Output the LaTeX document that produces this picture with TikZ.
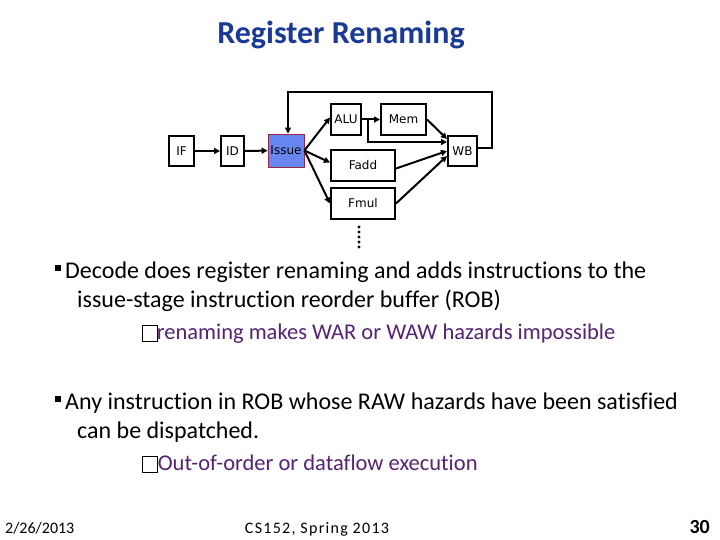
\documentclass[tikz,border=0pt]{standalone}
\usepackage{fontspec}
\setmainfont{Carlito}[Ligatures=NoCommon]
\newfontfamily\diagfont{DejaVu Sans}
\usepackage{xcolor}
\usetikzlibrary{arrows.meta,positioning}
\definecolor{titleblue}{RGB}{26,58,150}
\definecolor{subpurple}{RGB}{85,35,115}
\definecolor{issueblue}{RGB}{104,134,240}
\definecolor{issueedge}{RGB}{150,40,70}
% box standing in for the glyph the slide font lacks
\newcommand{\nosign}{{\color{black}\setlength{\fboxsep}{0pt}\setlength{\fboxrule}{0.8pt}%
  \raisebox{-2pt}{\fbox{\rule{0pt}{15pt}\hspace{14pt}}}}}

\begin{document}
\begin{tikzpicture}[
  x=1pt,y=-1pt,
  stage/.style={draw,line width=2pt,inner sep=0pt,
                font=\diagfont\fontsize{12}{14}\selectfont},
  arr/.style={-{Triangle[length=6pt,width=6pt]},line width=2pt},
  txt/.style={anchor=base west,inner sep=0pt,font=\fontsize{24}{28}\selectfont},
  sub/.style={txt,text=subpurple,font=\fontsize{22.5}{26}\selectfont},
  bullet/.style={fill=black,minimum size=6pt,inner sep=0pt},
  foot/.style={inner sep=0pt,font=\fontsize{16}{18}\selectfont}
]
\useasboundingbox (0,0) rectangle (720,540);

\node[font=\bfseries\fontsize{32}{36}\selectfont,text=titleblue,anchor=base]
  (title) at (341,44) {Register Renaming};

% pipeline
\node[stage,minimum width=25pt,minimum height=30pt] (if) at (181.5,151) {IF};
\node[stage,minimum width=23pt,minimum height=30pt] (id) at (232.5,151) {ID};
\node[stage,minimum width=36pt,minimum height=33pt,fill=issueblue,
      draw=issueedge,line width=0.8pt] (issue) at (286,150.5) {Issue};
\node[stage,minimum width=30pt,minimum height=31pt] (alu) at (346,119.5) {ALU};
\node[stage,minimum width=45pt,minimum height=31pt] (mem) at (403.5,119.5) {Mem};
\node[stage,minimum width=29pt,minimum height=30pt] (wb) at (462.5,151) {WB};
\node[stage,minimum width=64pt,minimum height=31pt] (fadd) at (363,165.5) {Fadd};
\node[stage,minimum width=64pt,minimum height=31pt] (fmul) at (363,203.5) {Fmul};
\foreach \y in {227,232,237,242,247}
  \fill (359,\y) circle (1.6pt);

\draw[arr] (if) -- (id);
\draw[arr] (id) -- (issue);
\draw[arr] (issue.east) -- ([yshift=2pt]alu.west);
\draw[arr] (issue.east) -- ([yshift=3pt]fadd.west);
\draw[arr] (issue.east) -- (fmul.west);
\draw[arr] (alu) -- (mem);
\draw[arr] (alu.east) -- ++(6,0) |- ([yshift=9pt]wb.west);
\draw[arr] (mem.east) -- ([yshift=12pt]wb.west);
\draw[arr] ([yshift=-3pt]fadd.east) -- (wb.west);
\draw[arr] (fmul.east) -- ([yshift=-5pt]wb.west);
\draw[arr] ([yshift=3pt]wb.east) -| ++(14,-56) -| ([xshift=2pt]issue.north);

% bullets
\node[bullet] (b1) at (58,268) {};
\node[txt] (l1) at (65,278) {Decode does register renaming and adds instructions to the};
\node[txt] (l2) at (77,307) {issue-stage instruction reorder buffer (ROB)};
\node[sub] (l3) at (142,339) {\nosign\hspace{-1pt}renaming makes WAR or WAW hazards impossible};
\node[bullet] (b2) at (58,399) {};
\node[txt] (l4) at (65,409) {Any instruction in ROB whose RAW hazards have been satisfied};
\node[txt] (l5) at (77,438) {can be dispatched.};
\node[sub] (l6) at (142,470) {\nosign Out-of-order or dataflow execution};

% footer
\node[foot,anchor=base west] (date) at (5,533) {2/26/2013};
\node[foot,anchor=base,font=\fontsize{16}{18}\selectfont\addfontfeature{LetterSpace=8}]
  (course) at (317,533) {CS152, Spring 2013};
\node[foot,anchor=base east,font=\bfseries\fontsize{20}{22}\selectfont]
  (page) at (710,533) {30};
\end{tikzpicture}
\end{document}
